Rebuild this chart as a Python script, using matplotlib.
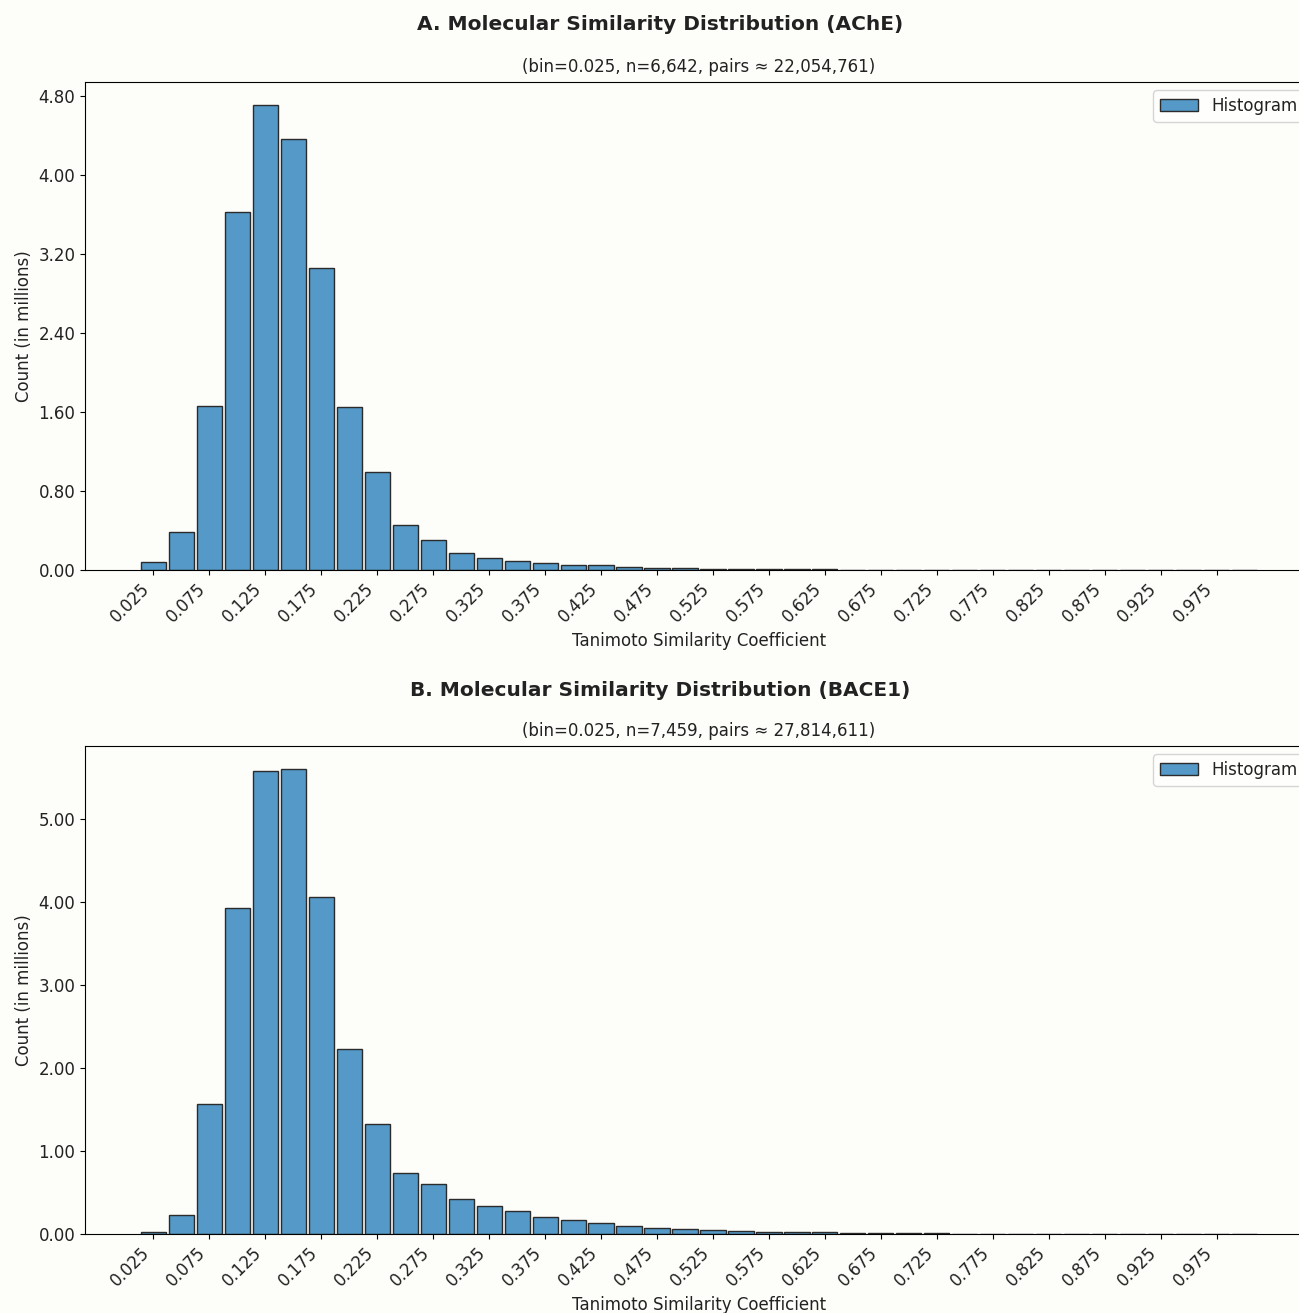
import numpy as np
import matplotlib
matplotlib.use("Agg")
import matplotlib.pyplot as plt

# similarity bins (bin = 0.025), counts in millions of pairs
bin_width = 0.025
bin_pos = [round(0.025 * (i + 1), 3) for i in range(40)]

ache_counts = [0.08, 0.39, 1.66, 3.63, 4.71, 4.37, 3.06, 1.65, 0.99, 0.46,
               0.30, 0.17, 0.12, 0.09, 0.07, 0.055, 0.05, 0.035, 0.024, 0.017,
               0.014, 0.011, 0.009, 0.007, 0.006, 0.005, 0.004, 0.004, 0.003, 0.003,
               0.002, 0.002, 0.002, 0.002, 0.001, 0.001, 0.001, 0.001, 0.001, 0.004]

bace1_counts = [0.02, 0.225, 1.57, 3.93, 5.58, 5.60, 4.06, 2.23, 1.33, 0.74,
                0.60, 0.42, 0.34, 0.28, 0.21, 0.17, 0.13, 0.10, 0.072, 0.056,
                0.052, 0.036, 0.028, 0.024, 0.020, 0.016, 0.013, 0.010, 0.008, 0.006,
                0.005, 0.004, 0.003, 0.003, 0.002, 0.002, 0.002, 0.001, 0.001, 0.003]

x_ticks = [round(0.025 + 0.05 * i, 3) for i in range(20)]

panels = [
    ("A. Molecular Similarity Distribution (AChE)",
     "(bin=0.025, n=6,642, pairs \u2248 22,054,761)",
     ache_counts, np.arange(0, 4.81, 0.8)),
    ("B. Molecular Similarity Distribution (BACE1)",
     "(bin=0.025, n=7,459, pairs \u2248 27,814,611)",
     bace1_counts, np.arange(0, 5.01, 1.0)),
]

plt.rcParams['text.color'] = '#222222'
plt.rcParams['axes.labelcolor'] = '#222222'
plt.rcParams['xtick.labelcolor'] = '#222222'
plt.rcParams['ytick.labelcolor'] = '#222222'

bg = "#fdfdfa"
W, H = 1299, 1313
fig = plt.figure(figsize=(W / 100, H / 100), dpi=100, facecolor=bg)

# pixel boxes of the two axes (left, top, right, bottom)
boxes = [(85, 82, 1313, 570), (85, 746, 1313, 1234)]
title_y = [25, 690]

for (title, subtitle, counts, yt), box, ty in zip(panels, boxes, title_y):
    l, t, r, b = box
    ax = fig.add_axes([l / W, 1 - b / H, (r - l) / W, (b - t) / H])
    ax.set_facecolor(bg)
    ax.bar(bin_pos, counts, width=0.9 * bin_width,
           color="#5499c7", edgecolor="#2b2b2b",
           linewidth=1.0, label="Histogram")
    ax.set_xticks(x_ticks)
    ax.set_xticklabels([f"{v:.3f}" for v in x_ticks], rotation=45, ha="right")
    ax.set_yticks(yt)
    ax.set_yticklabels([f"{v:.2f}" for v in yt])
    ax.tick_params(labelsize=12)
    ax.set_xlabel("Tanimoto Similarity Coefficient", fontsize=12)
    ax.set_ylabel("Count (in millions)", fontsize=12)
    ax.set_title(subtitle, fontsize=12, pad=7)
    ax.legend(loc="upper right", fontsize=12, handlelength=2.3)
    fig.text(660 / W, 1 - ty / H, title, ha="center", va="center",
             fontsize=14.5, fontweight="bold")

fig.savefig("out.png", dpi=100, facecolor=bg)
